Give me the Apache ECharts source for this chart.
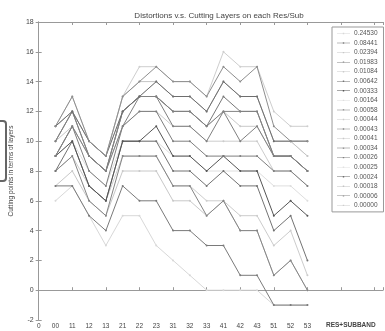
<!DOCTYPE html>
<html>
<head>
<meta charset="utf-8">
<script src="https://cdn.jsdelivr.net/npm/echarts@6/dist/echarts.min.js"></script>
<style>
  html, body { margin: 0; padding: 0; background: #fff; }
  #chart { width: 385px; height: 331px; }
</style>
</head>
<body>
<div id="chart"></div>
<script>
// tick labels along x (value 0 .. 16)
const bandLabels = ['0', '00', '11', '12', '13', '21', '22', '23', '31', '32', '33', '41', '42', '43', '51', '52', '53'];
const thresholds = ['0.24530', '0.08441', '0.02394', '0.01983', '0.01084', '0.00642', '0.00333', '0.00164', '0.00058',
  '0.00044', '0.00043', '0.00041', '0.00034', '0.00026', '0.00025', '0.00024', '0.00018', '0.00006', '0.00000'];

// cutting points per res/subband (00 .. 53), one array per distortion threshold
const cut24530 = [6, 7, 5, 3, 5, 5, 3, 2, 1, 0, 0, 0, 0, -1, -1, -1];
const cut08441 = [7, 7, 5, 4, 7, 6, 6, 4, 4, 3, 3, 1, 1, -1, -1, -1];
const cut02394 = [7, 8, 6, 5, 8, 8, 8, 6, 6, 5, 6, 4, 4, 1, 2, 0];
const cut01983 = [8, 9, 6, 5, 9, 9, 9, 7, 7, 5, 6, 4, 4, 1, 2, 0];
const cut01084 = [8, 9, 7, 6, 9, 9, 9, 7, 7, 6, 6, 5, 5, 3, 4, 1];
const cut00642 = [8, 10, 7, 6, 10, 10, 10, 8, 8, 7, 8, 7, 7, 4, 5, 2];
const cut00333 = [9, 10, 7, 6, 10, 10, 11, 9, 9, 8, 9, 8, 8, 5, 6, 5];
const cut00164 = [9, 10, 8, 7, 10, 10, 10, 9, 9, 8, 8, 8, 8, 7, 7, 6];
const cut00058 = [9, 11, 8, 7, 11, 12, 12, 10, 10, 9, 9, 9, 9, 8, 8, 7];
const cut00044 = [9, 11, 9, 8, 11, 12, 12, 11, 11, 10, 10, 10, 10, 8, 8, 7];
const cut00043 = [9, 11, 9, 8, 11, 13, 13, 11, 11, 10, 12, 10, 11, 9, 9, 8];
const cut00041 = [10, 11, 9, 8, 12, 13, 13, 12, 12, 11, 12, 11, 11, 9, 9, 8];
const cut00034 = [10, 12, 9, 8, 12, 13, 13, 12, 12, 11, 13, 12, 12, 9, 9, 8];
const cut00026 = [10, 12, 9, 8, 12, 13, 13, 12, 12, 11, 12, 12, 12, 9, 9, 8];
const cut00025 = [11, 12, 10, 9, 12, 13, 14, 13, 13, 12, 14, 13, 13, 10, 10, 9];
const cut00024 = [11, 12, 10, 9, 12, 13, 14, 13, 13, 12, 14, 13, 13, 10, 10, 10];
const cut00018 = [11, 12, 10, 9, 13, 14, 14, 13, 13, 12, 14, 13, 13, 10, 10, 9];
const cut00006 = [11, 13, 10, 9, 13, 14, 15, 14, 14, 13, 15, 14, 15, 11, 10, 10];
const cut00000 = [11, 13, 10, 9, 13, 15, 15, 14, 14, 13, 16, 15, 15, 12, 11, 11];

const cutValues = [cut24530, cut08441, cut02394, cut01983, cut01084, cut00642, cut00333, cut00164, cut00058,
  cut00044, cut00043, cut00041, cut00034, cut00026, cut00025, cut00024, cut00018, cut00006, cut00000];

// gray level of each line
const lineColors = ['#d8d8d8', '#7a7a7a', '#c8c8c8', '#858585', '#cccccc', '#737373', '#555555', '#dedede', '#7e7e7e',
  '#cccccc', '#808080', '#c8c8c8', '#787878', '#828282', '#e2e2e2', '#6e6e6e', '#c4c4c4', '#8e8e8e', '#cecece'];

const font = 'Liberation Sans, Arial, sans-serif';
const axisColor = '#999';
// thin line with a small dot in the middle
const legendIcon = 'path://M0,0.75 L13,0.75 L13,1.25 L0,1.25 Z M5.8,0.3 L7.2,0.3 L7.2,1.7 L5.8,1.7 Z';

const series = thresholds.map((name, k) => ({
  name,
  type: 'line',
  xAxisIndex: 0,
  data: cutValues[k].map((v, i) => [i + 1, v]),
  symbol: 'circle',
  symbolSize: 2,
  lineStyle: { width: 1, color: lineColors[k] },
  itemStyle: { color: lineColors[k] },
  z: lineColors[k] < '#a' ? 3 : 2,
}));

const tickAxis = (position) => ({
  type: 'value',
  position,
  min: 0,
  max: 20.5,
  interval: 2,
  axisLine: { show: true, lineStyle: { color: axisColor, width: 1 } },
  axisTick: { show: true, inside: true, length: 3, lineStyle: { color: axisColor } },
  axisLabel: { show: false },
  splitLine: { show: false },
});

const option = {
  animation: false,
  backgroundColor: '#fff',
  title: {
    text: 'Distortions v.s. Cutting Layers on each Res/Sub',
    left: 214,
    textAlign: 'center',
    top: 7,
    textStyle: { fontFamily: font, fontSize: 8, fontWeight: 'normal', color: '#444' },
  },
  grid: { left: 35, right: 2, top: 22, bottom: 11 },
  xAxis: [
    {
      type: 'value',
      position: 'bottom',
      min: 0,
      max: 20.5,
      interval: 1,
      axisLine: { show: false },
      axisTick: { show: false },
      axisLabel: {
        fontFamily: font,
        fontSize: 6.5,
        color: '#444',
        margin: 3,
        showMaxLabel: false,
        formatter: (v) => (Number.isInteger(v) && v < bandLabels.length ? bandLabels[v] : ''),
      },
      splitLine: { show: false },
    },
    tickAxis('bottom'),
    tickAxis('top'),
  ],
  yAxis: [
    {
      type: 'value',
      position: 'left',
      min: -2,
      max: 18,
      interval: 2,
      name: 'Cutting points in terms of layers',
      nameLocation: 'middle',
      nameGap: 15,
      nameTextStyle: { fontFamily: font, fontSize: 6.5, color: '#444' },
      axisLine: { show: true, lineStyle: { color: axisColor } },
      axisTick: { show: true, inside: true, length: 3, lineStyle: { color: axisColor } },
      axisLabel: { fontFamily: font, fontSize: 7, color: '#444', margin: 5 },
      splitLine: { show: false },
    },
    {
      type: 'value',
      position: 'right',
      min: -2,
      max: 18,
      interval: 2,
      axisLine: { show: true, lineStyle: { color: axisColor } },
      axisTick: { show: true, inside: true, length: 3, lineStyle: { color: axisColor } },
      axisLabel: { show: false },
      splitLine: { show: false },
    },
  ],
  legend: {
    orient: 'vertical',
    left: 332,
    top: 27,
    padding: [3, 6, 3, 5],
    icon: legendIcon,
    itemWidth: 13,
    itemHeight: 7,
    itemGap: 2.55,
    backgroundColor: '#fff',
    borderColor: '#999',
    borderWidth: 1,
    textStyle: { fontFamily: font, fontSize: 6.5, color: '#555', padding: [0, 0, 0, -1] },
    data: thresholds,
  },
  graphic: [
    {
      type: 'text',
      left: 326,
      top: 322,
      style: { text: 'RES+SUBBAND', font: 'bold 6.5px ' + font, fill: '#444' },
    },
    {
      type: 'rect',
      shape: { x: -6, y: 121, width: 12, height: 60, r: 3 },
      style: { fill: 'none', stroke: '#666', lineWidth: 2 },
    },
  ],
  series,
};

const chart = echarts.init(document.getElementById('chart'));
chart.setOption(option);
</script>
</body>
</html>
